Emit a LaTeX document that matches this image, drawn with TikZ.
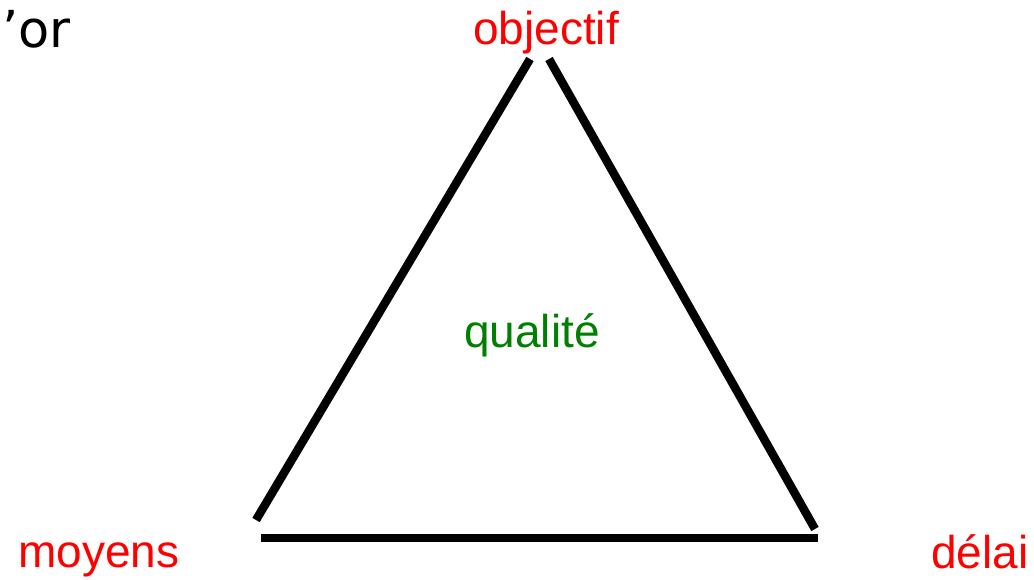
\documentclass[tikz,border=0pt]{standalone}
\usepackage{fontspec}
\setmainfont{Liberation Sans}
\newfontfamily\orfont{DejaVu Sans}
\definecolor{lbl}{RGB}{255,0,0}
\definecolor{qual}{RGB}{0,128,0}
\begin{document}
\begin{tikzpicture}[x=1pt,y=-1pt,
  txt/.style={inner sep=0pt,anchor=base west,font=\fontsize{46}{50}\selectfont},
  side/.style={line width=8.5pt,line cap=butt}]
\useasboundingbox (0,0) rectangle (1034,580);
\node[txt,text=black,font=\orfont\fontsize{51}{55}\selectfont] (or) at (2,48) {’or};
\node[txt,text=lbl] (obj) at (473,45) {objectif};
\node[txt,text=qual] (q) at (464,347) {qualité};
\node[txt,text=lbl] (moy) at (18,567) {moyens};
\node[txt,text=lbl] (del) at (931,568) {délai};
\coordinate (lb) at (256,520);
\coordinate (lt) at (530,59);
\coordinate (rt) at (549,59);
\coordinate (rb) at (815,529);
\coordinate (bl) at (261,538);
\coordinate (br) at (818,538);
\draw[side] (lb) -- (lt);
\draw[side] (rt) -- (rb);
\draw[side] (bl) -- (br);
\end{tikzpicture}
\end{document}
